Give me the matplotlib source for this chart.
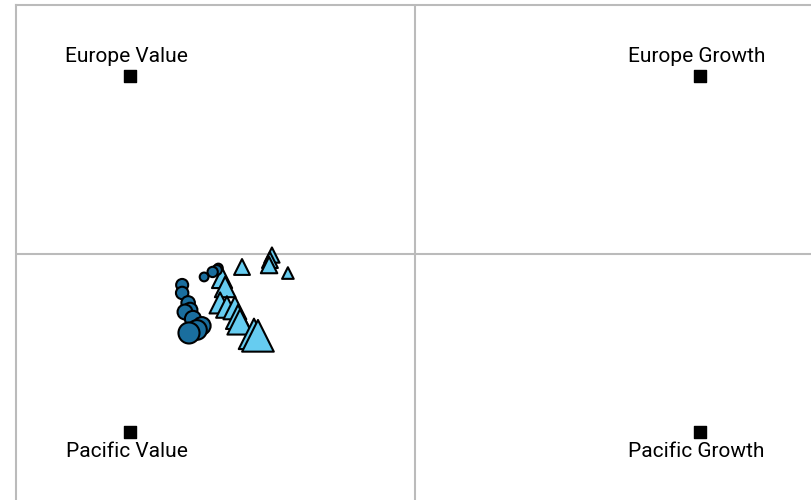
import matplotlib
matplotlib.use("Agg")
import matplotlib.pyplot as plt
import numpy as np

plt.rcParams['font.family'] = ['Roboto', 'DejaVu Sans']

# Corner anchors (style indices)
anchor_names = ["Europe Value", "Europe Growth", "Pacific Value", "Pacific Growth"]
anchor_x = [-1.0, 1.0, -1.0, 1.0]
anchor_y = [1.0, 1.0, -1.0, -1.0]

# Fund A (circles): style position over time, marker size grows with time
fund_a_x = [-0.69, -0.695, -0.71, -0.74, -0.817, -0.817, -0.796, -0.789, -0.807, -0.779, -0.748, -0.765, -0.793]
fund_a_y = [-0.079, -0.090, -0.101, -0.129, -0.174, -0.219, -0.275, -0.315, -0.326, -0.365, -0.404, -0.427, -0.444]
fund_a_s = [40, 50, 55, 40, 75, 80, 95, 110, 115, 135, 160, 200, 230]

# Fund B (triangles)
fund_b_x = [-0.446, -0.502, -0.509, -0.512, -0.607, -0.677, -0.666, -0.684, -0.660, -0.632, -0.621, -0.614, -0.565, -0.551]
fund_b_y = [-0.107, -0.006, -0.034, -0.062, -0.073, -0.135, -0.185, -0.275, -0.298, -0.303, -0.354, -0.382, -0.449, -0.460]
fund_b_s = [70, 120, 130, 140, 130, 210, 220, 230, 240, 270, 300, 330, 480, 520]

fig = plt.figure(figsize=(8.12, 5.0), dpi=100)
ax = fig.add_axes([16/812, -3/500, 798/812, 498/500])
ax.set_xlim(-1.4, 1.4)
ax.set_ylim(-1.4, 1.4)
ax.set_xticks([])
ax.set_yticks([])
for sp in ax.spines.values():
    sp.set_color("#bbbbbb")
    sp.set_linewidth(1.5)
ax.axhline(0, color="#bbbbbb", lw=1.5, zorder=0)
ax.axvline(0, color="#bbbbbb", lw=1.5, zorder=0)

ax.scatter(anchor_x, anchor_y, marker="s", s=75, color="black", zorder=3)
for name, x, y in zip(anchor_names, anchor_x, anchor_y):
    dy = 10 if y > 0 else -18
    ax.annotate(name, (x, y), xytext=(-2.5, dy), textcoords="offset points",
                ha="center", va="baseline", fontsize=15, color="black")

ax.scatter(fund_b_x, fund_b_y, marker="^", s=fund_b_s, color="#66ccf0",
           edgecolor="black", linewidth=1.5, zorder=4)
ax.scatter(fund_a_x, fund_a_y, marker="o", s=fund_a_s, color="#1a6e9e",
           edgecolor="black", linewidth=1.5, zorder=5)

fig.savefig("out.png", dpi=100)
